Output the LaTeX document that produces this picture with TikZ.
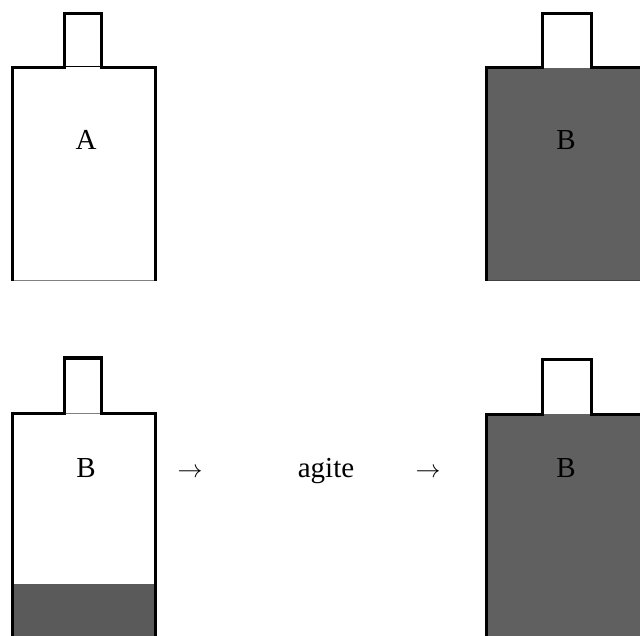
\documentclass[tikz,border=0pt]{standalone}
\usepackage{fontspec}
\setmainfont{Liberation Serif}
\definecolor{liquid}{RGB}{96,96,96}
\definecolor{liquidlow}{RGB}{90,90,90}
\begin{document}
\begin{tikzpicture}[x=1pt,y=-1pt,
  outline/.style={line width=3pt,line join=miter},
  rim/.style={line width=1pt},
  label/.style={font=\fontsize{29}{34}\selectfont,inner sep=0pt,anchor=base}]
\useasboundingbox (0,0) rectangle (640,636);
\begin{scope}
\clip (0,0) rectangle (640,636);

% bottle A (top left), empty of liquid except A
\draw[rim,black] (64.5,67) -- (101.5,67);
\draw[rim,gray] (12.5,281) -- (155,281);
\draw[outline] (12.5,281) -- (12.5,67.7) -- (64.5,67.7) -- (64.5,13.5)
  -- (101.5,13.5) -- (101.5,67.7) -- (155,67.7) -- (155,281);
\node[label] (lblA) at (86,150) {A};

% bottle B (top right), filled
\fill[liquid] (486.5,67.7) rectangle (660,281);
\draw[rim,black!75] (486.5,281) -- (660,281);
\draw[outline] (486.5,281) -- (486.5,67.7) -- (542.3,67.7) -- (542.3,13.3)
  -- (591,13.3) -- (591,67.7) -- (660,67.7);
\node[label] (lblB1) at (566,150) {B};

% bottle B (bottom left), liquid settled at the bottom
\fill[liquidlow] (12.5,584) rectangle (155,640);
\draw[rim,gray] (64.5,413) -- (101.5,413);
\draw[outline] (12.5,640) -- (12.5,413.7) -- (64.5,413.7) -- (64.5,358)
  -- (101.5,358) -- (101.5,413.7) -- (155,413.7) -- (155,640);
\node[label] (lblB2) at (86,477) {B};

% shaking step
\node[label] (arrL) at (190,477) {$\rightarrow$};
\node[label] (shake) at (326,477) {agite};
\node[label] (arrR) at (428,477) {$\rightarrow$};

% bottle B (bottom right), mixed
\fill[liquid] (486.5,414) rectangle (660,640);
\draw[outline] (486.5,640) -- (486.5,414) -- (542.3,414) -- (542.3,359)
  -- (591,359) -- (591,414) -- (660,414);
\node[label] (lblB3) at (566,477) {B};
\end{scope}
\end{tikzpicture}
\end{document}
